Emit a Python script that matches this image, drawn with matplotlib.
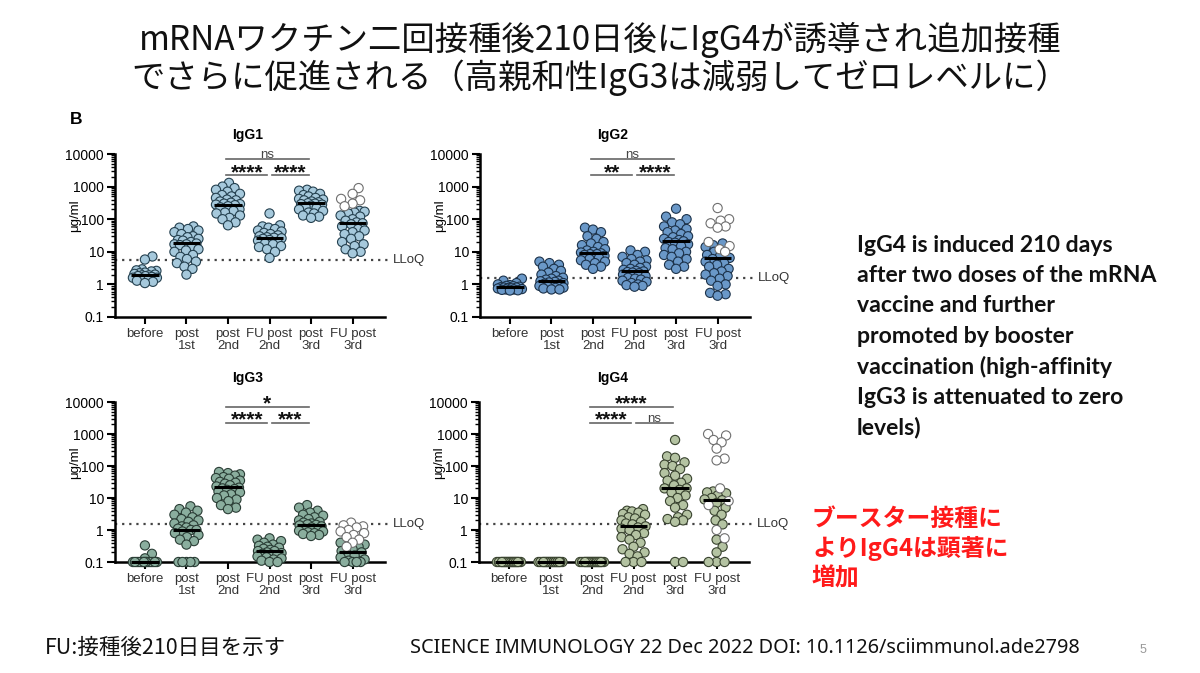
import numpy as np
import matplotlib
matplotlib.use("Agg")
import matplotlib.pyplot as plt
from matplotlib.ticker import LogLocator, FuncFormatter, NullFormatter

W_PX, H_PX = 1200, 673

# ---------------- data ----------------
CATEGORIES = ["before", "post\n1st", "post\n2nd", "FU post\n2nd", "post\n3rd", "FU post\n3rd"]

# IgG1 (µg/ml)
G1_BEFORE = [7.2, 5.8, 2.9, 2.7, 2.6, 2.5, 2.3, 2.2, 2.1, 2.0, 1.9, 1.9, 1.8, 1.8, 1.7, 1.6, 1.6, 1.5, 1.4, 1.3, 1.2, 1.1]
G1_POST1 = [60, 55, 50, 45, 40, 35, 30, 28, 25, 23, 22, 20, 18, 17, 17, 16, 14, 12, 11, 10, 8, 7, 6, 5, 4.5, 3.5, 3, 2]
G1_POST2 = [1300, 1000, 900, 800, 700, 600, 550, 500, 450, 400, 380, 350, 320, 300, 290, 280, 270, 250, 230, 200, 180, 160, 150, 130, 110, 100, 80, 65]
G1_FU2 = [150, 65, 60, 55, 50, 45, 42, 38, 35, 32, 30, 28, 27, 26, 25, 23, 22, 20, 18, 17, 15, 14, 12, 10, 6.5]
G1_POST3 = [800, 750, 700, 600, 550, 500, 450, 420, 400, 380, 350, 330, 310, 300, 290, 280, 260, 240, 220, 200, 180, 160, 150, 130, 120, 110]
G1_FU3 = [180, 170, 160, 150, 130, 120, 100, 90, 80, 75, 70, 60, 50, 45, 40, 35, 30, 25, 20, 17, 15, 12, 10, 9]
G1_FU3_OPEN = [900, 600, 420, 380, 300, 250]
G1_MEDIANS = [1.95, 18, 275, 27, 305, 78]
G1_LLOQ = 5.6

# IgG2
G2_BEFORE = [1.5, 1.3, 1.1, 1.0, 0.95, 0.9, 0.88, 0.85, 0.82, 0.8, 0.8, 0.78, 0.76, 0.75, 0.72, 0.7, 0.7, 0.68, 0.66, 0.65]
G2_POST1 = [5, 4.5, 4, 3.5, 3, 2.6, 2.3, 2.0, 1.8, 1.6, 1.5, 1.4, 1.3, 1.25, 1.2, 1.15, 1.1, 1.05, 1.0, 0.95, 0.9, 0.85, 0.8, 0.78, 0.75, 0.7, 0.7]
G2_POST2 = [55, 48, 40, 30, 25, 20, 18, 16, 14, 12, 11, 10, 9.5, 9, 8.5, 8.5, 8, 7.5, 7, 6.5, 6, 5.5, 5, 4.5, 4, 3.5, 3]
G2_FU2 = [11, 10, 8, 7, 6, 5.5, 5, 4.5, 4, 3.5, 3.2, 3, 2.8, 2.6, 2.5, 2.4, 2.3, 2.2, 2, 1.8, 1.6, 1.5, 1.4, 1.3, 1.2, 1.1, 1.0, 0.95, 0.9, 0.85]
G2_POST3 = [210, 120, 100, 80, 70, 60, 50, 45, 40, 35, 30, 28, 25, 23, 21, 20, 19, 17, 15, 13, 12, 10, 9, 8, 7, 6, 5, 4, 3.5, 3]
G2_FU3 = [18, 16, 14, 10, 8, 7, 6.5, 6, 5, 4.5, 4, 3.5, 3, 2.5, 2.2, 2, 1.8, 1.5, 1.3, 1.0, 0.9, 0.55, 0.5, 0.45]
G2_FU3_OPEN = [220, 100, 90, 75, 60, 55, 20, 15, 12, 10]
G2_MEDIANS = [0.84, 1.28, 8.9, 2.5, 21.5, 6.5]
G2_LLOQ = 1.6

# IgG3
G3_BEFORE = [0.33, 0.18, 0.13, 0.1, 0.1, 0.1, 0.1, 0.1, 0.1, 0.1, 0.1, 0.1, 0.1, 0.1, 0.1, 0.1, 0.1, 0.1]
G3_POST1 = [5.5, 4.5, 4, 3.5, 3, 2.5, 2.2, 2, 1.8, 1.6, 1.4, 1.3, 1.2, 1.1, 1.0, 1.0, 0.9, 0.8, 0.7, 0.6, 0.5, 0.45, 0.35, 0.1, 0.1, 0.1, 0.1, 0.1]
G3_POST2 = [65, 60, 55, 50, 45, 42, 40, 35, 32, 30, 28, 25, 23, 21, 20, 19, 18, 16, 15, 13, 12, 10, 9, 8, 6, 5, 4.5]
G3_FU2 = [0.55, 0.5, 0.45, 0.4, 0.35, 0.32, 0.3, 0.28, 0.26, 0.24, 0.22, 0.22, 0.2, 0.19, 0.18, 0.17, 0.16, 0.15, 0.14, 0.13, 0.12, 0.11, 0.1, 0.1]
G3_POST3 = [6, 5, 4, 3.5, 3, 2.8, 2.5, 2.2, 2, 1.8, 1.7, 1.6, 1.5, 1.45, 1.4, 1.3, 1.2, 1.1, 1.0, 0.95, 0.9, 0.85, 0.8, 0.75, 0.7, 0.65]
G3_FU3 = [0.4, 0.35, 0.3, 0.25, 0.22, 0.2, 0.18, 0.16, 0.14, 0.12, 0.11, 0.1, 0.1, 0.1, 0.1]
G3_FU3_OPEN = [1.7, 1.4, 1.3, 1.2, 1.0, 0.9, 0.8, 0.7, 0.6, 0.5, 0.4, 0.3]
G3_MEDIANS = [0.1, 1.02, 21.5, 0.215, 1.47, 0.2]
G3_LLOQ = 1.55

# IgG4
G4_BEFORE = [0.1] * 22
G4_POST1 = [0.1] * 22
G4_POST2 = [0.1] * 22
G4_FU2 = [4.5, 4, 3.8, 3.5, 3.2, 3, 2.5, 2.3, 2, 1.8, 1.6, 1.5, 1.3, 1.2, 1.1, 1.0, 0.8, 0.7, 0.6, 0.5, 0.4, 0.3, 0.25, 0.2, 0.18, 0.15, 0.1, 0.1, 0.1]
G4_POST3 = [650, 200, 180, 130, 110, 100, 80, 60, 50, 40, 35, 30, 25, 20, 20, 18, 15, 12, 10, 8, 6, 5, 3, 2.5, 2.2, 2, 1.8, 0.1, 0.1]
G4_FU3 = [16, 15, 14, 12, 10, 9, 8.5, 7, 5, 4, 3, 2, 1.5, 0.5, 0.3, 0.2, 0.1, 0.1, 0.1]
G4_FU3_OPEN = [1000, 900, 650, 550, 350, 170, 150, 20, 8, 6, 1.0, 0.55]
G4_MEDIANS = [0.1, 0.1, 0.1, 1.3, 20.5, 8.5]
G4_LLOQ = 1.55

# significance annotations: (label, from-category, to-category, level)
G1_SIG = [("ns", 2, 4, "upper"), ("****", 2, 3, "lower"), ("****", 3, 4, "lower")]
G2_SIG = [("ns", 2, 4, "upper"), ("**", 2, 3, "lower"), ("****", 3, 4, "lower")]
G3_SIG = [("*", 2, 4, "upper"), ("****", 2, 3, "lower"), ("***", 3, 4, "lower")]
G4_SIG = [("****", 2, 4, "upper"), ("****", 2, 3, "lower"), ("ns", 3, 4, "lower")]
SIG_LEVELS = {"upper": 7000, "lower": 2200}

TITLE_LINES = ["mRNAワクチン二回接種後210日後にIgG4が誘導され追加接種",
               "でさらに促進される（高親和性IgG3は減弱してゼロレベルに）"]
RIGHT_NOTE = ["IgG4 is induced 210 days", "after two doses of the mRNA", "vaccine and further",
              "promoted by booster", "vaccination (high-affinity", "IgG3 is attenuated to zero", "levels)"]
RED_NOTE = ["ブースター接種に", "よりIgG4は顕著に", "増加"]
FOOT_LEFT = "FU:接種後210日目を示す"
FOOT_REF = "SCIENCE IMMUNOLOGY 22 Dec 2022 DOI: 10.1126/sciimmunol.ade2798"
PAGE_NO = "5"

# ---------------- drawing ----------------
plt.rcParams["font.family"] = ["Liberation Sans", "DejaVu Sans"]
JP = ["Noto Sans CJK JP", "DejaVu Sans"]

fig = plt.figure(figsize=(W_PX / 100, H_PX / 100), dpi=100)
fig.patch.set_facecolor("white")


def ftext(x, y, s, **kw):
    return fig.text(x / W_PX, 1 - y / H_PX, s, **kw)


def swarm_offsets(vals, px_per_dec, d=8.0, half_w=12.0):
    y = (np.log10(np.asarray(vals, float)) + 1.0) * px_per_dec
    steps = np.arange(0.5, half_w + 0.01, 0.5)
    cands = [0.0]
    for s in steps:
        cands += [s, -s]
    cands = np.array(cands)
    xs = np.zeros(len(y))
    px, py = [], []
    for i in np.argsort(y, kind="stable"):
        if not px:
            x = 0.0
        else:
            ax_, ay_ = np.array(px), np.array(py)
            best, bestd, x = None, -1.0, None
            for c in cands:
                dist = np.min(np.hypot(ax_ - c, ay_ - y[i]))
                if dist >= d:
                    x = c
                    break
                if dist > bestd + 0.25:
                    bestd, best = dist, c
            if x is None:
                x = best
        xs[i] = x
        px.append(x)
        py.append(y[i])
    return xs


panels = [
    dict(title="IgG1", rect=(115, 154, 385, 317), title_xy=(248, 135),
         groups=[G1_BEFORE, G1_POST1, G1_POST2, G1_FU2, G1_POST3, G1_FU3], open=G1_FU3_OPEN,
         med=G1_MEDIANS, lloq=G1_LLOQ, sig=G1_SIG, face="#a6c9dc", edge="#24404f"),
    dict(title="IgG2", rect=(480, 154, 750, 317), title_xy=(613, 135),
         groups=[G2_BEFORE, G2_POST1, G2_POST2, G2_FU2, G2_POST3, G2_FU3], open=G2_FU3_OPEN,
         med=G2_MEDIANS, lloq=G2_LLOQ, sig=G2_SIG, face="#6a98c8", edge="#1c324a"),
    dict(title="IgG3", rect=(115, 402, 385, 562), title_xy=(248, 378),
         groups=[G3_BEFORE, G3_POST1, G3_POST2, G3_FU2, G3_POST3, G3_FU3], open=G3_FU3_OPEN,
         med=G3_MEDIANS, lloq=G3_LLOQ, sig=G3_SIG, face="#8aae9e", edge="#2a3d35"),
    dict(title="IgG4", rect=(479, 402, 749, 562), title_xy=(613, 378),
         groups=[G4_BEFORE, G4_POST1, G4_POST2, G4_FU2, G4_POST3, G4_FU3], open=G4_FU3_OPEN,
         med=G4_MEDIANS, lloq=G4_LLOQ, sig=G4_SIG, face="#b4c3a2", edge="#39432f"),
]

XMIN, XMAX = -0.72, 5.78

for p in panels:
    l, t, r, b = p["rect"]
    ax = fig.add_axes([l / W_PX, 1 - b / H_PX, (r - l) / W_PX, (b - t) / H_PX])
    ax.set_yscale("log")
    ax.set_ylim(0.1, 10000)
    ax.set_xlim(XMIN, XMAX)
    px_per_dec = (b - t) / 5.0
    px_per_cat = (r - l) / (XMAX - XMIN)

    for i, g in enumerate(p["groups"]):
        vals = list(g)
        is_open = [False] * len(vals)
        if i == 5:
            vals = vals + list(p["open"])
            is_open = is_open + [True] * len(p["open"])
        offs = swarm_offsets(vals, px_per_dec) / px_per_cat
        vals = np.array(vals)
        is_open = np.array(is_open)
        fc = np.where(is_open, "white", p["face"])
        ec = np.where(is_open, "#6f6f6f", p["edge"])
        ax.scatter(i + offs, vals, s=44, facecolors=list(fc), edgecolors=list(ec),
                   linewidths=0.8, zorder=3, clip_on=False)
        ax.plot([i - 0.33, i + 0.33], [p["med"][i]] * 2, color="black", lw=2.2,
                zorder=4, solid_capstyle="butt", clip_on=False)

    ax.axhline(p["lloq"], xmin=0, xmax=1.01, color="#444444", lw=1.6,
               ls=(0, (1, 2.2)), zorder=2, clip_on=False)
    ax.text(1.03, p["lloq"], "LLoQ", transform=ax.get_yaxis_transform(),
            ha="left", va="center", fontsize=9.5, color="#333333")

    for lab, c0, c1, lev in p["sig"]:
        yv = SIG_LEVELS[lev]
        if lev == "upper":
            x0, x1 = c0 - 0.05, c1 - 0.05
        else:
            x0 = c0 - 0.05 + (0.1 if c0 == 3 else 0)
            x1 = c1 - 0.05
        ax.plot([x0, x1], [yv, yv], color="#666666", lw=1.2, clip_on=False, zorder=5)
        xc = (x0 + x1) / 2
        if "*" in lab:
            ax.annotate(lab, xy=(xc, yv), xytext=(0, -2.0), textcoords="offset points",
                        ha="center", va="baseline", fontsize=15, fontweight="bold",
                        color="#111111", annotation_clip=False)
        else:
            ax.annotate(lab, xy=(xc, yv), xytext=(0, 1.0), textcoords="offset points",
                        ha="center", va="baseline", fontsize=9.5, color="#444444",
                        annotation_clip=False)

    for side in ("top", "right"):
        ax.spines[side].set_visible(False)
    for side in ("left", "bottom"):
        ax.spines[side].set_linewidth(1.8)
    ax.yaxis.set_major_locator(LogLocator(base=10, numticks=10))
    ax.yaxis.set_minor_locator(LogLocator(base=10, subs=np.arange(2, 10), numticks=20))
    ax.yaxis.set_minor_formatter(NullFormatter())
    ax.yaxis.set_major_formatter(FuncFormatter(lambda v, pos: ("%g" % v)))
    ax.tick_params(axis="y", which="major", length=6, width=1.5, labelsize=10, pad=2)
    ax.tick_params(axis="y", which="minor", length=3, width=1.0)
    ax.set_xticks(range(len(CATEGORIES)))
    ax.set_xticklabels(CATEGORIES, fontsize=9.5, color="#333333", linespacing=1.0)
    ax.tick_params(axis="x", length=5, width=1.5, pad=3)
    ax.set_ylabel("μg/ml", fontsize=9.5)
    ax.yaxis.set_label_coords(-0.125, 0.62)
    ftext(*p["title_xy"], p["title"], ha="center", va="center", fontsize=10, fontweight="bold")

ftext(70, 120, "B", ha="left", va="center", fontsize=12.5, fontweight="bold")

for k, line in enumerate(TITLE_LINES):
    ftext(600, 40 + 38 * k, line, ha="center", va="center", fontsize=24, family=JP, color="#111111")

for k, line in enumerate(RIGHT_NOTE):
    ftext(857, 245 + 30.5 * k, line, ha="left", va="center", fontsize=16.6, fontweight="bold",
          family=["Lato", "DejaVu Sans"], color="#111111")

for k, line in enumerate(RED_NOTE):
    ftext(812, 519 + 29.5 * k, line, ha="left", va="center", fontsize=17.2, fontweight="bold",
          family=JP, color="#ff1a1a")

ftext(45, 648, FOOT_LEFT, ha="left", va="center", fontsize=15.5, family=JP, color="#111111")
ftext(410, 648, FOOT_REF, ha="left", va="center", fontsize=14.3, family=["Noto Sans", "DejaVu Sans"],
      color="#111111")
ftext(1140, 650, PAGE_NO, ha="left", va="center", fontsize=9, color="#999999")

fig.savefig("out.png", dpi=100, facecolor="white")
